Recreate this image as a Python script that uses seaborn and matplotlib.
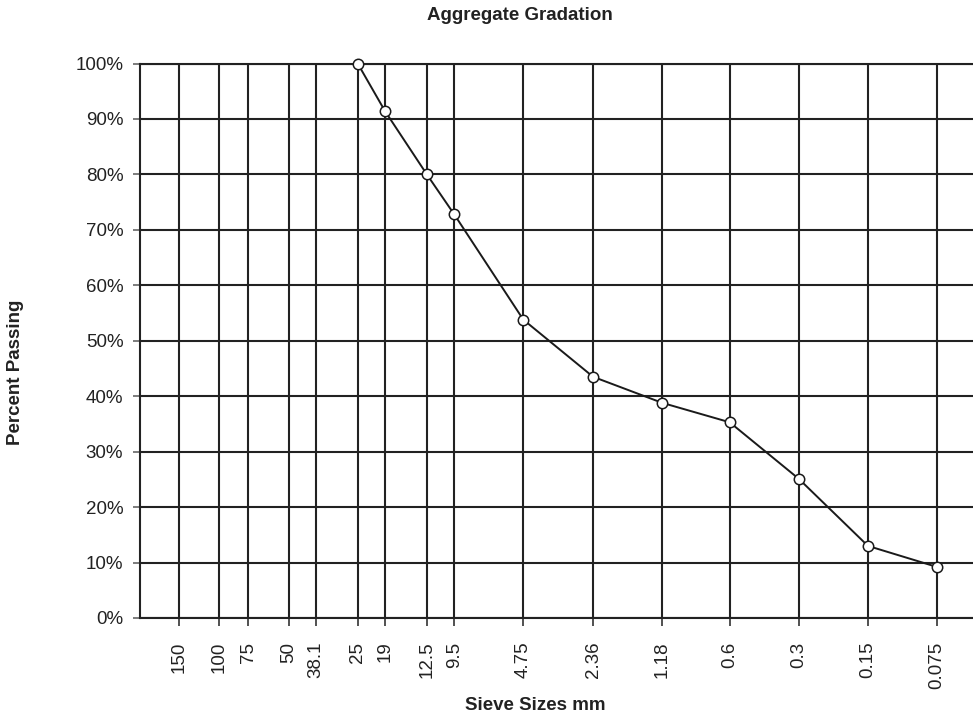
import matplotlib
matplotlib.use("Agg")
import matplotlib.pyplot as plt
import seaborn as sns
import pandas as pd
import numpy as np

# ---- data ----
sieve_labels = ["150", "100", "75", "50", "38.1", "25", "19", "12.5", "9.5",
                "4.75", "2.36", "1.18", "0.6", "0.3", "0.15", "0.075"]
sieve_sizes = [150, 100, 75, 50, 38.1, 25, 19, 12.5, 9.5,
               4.75, 2.36, 1.18, 0.6, 0.3, 0.15, 0.075]
measured_sizes = [25, 19, 12.5, 9.5, 4.75, 2.36, 1.18, 0.6, 0.3, 0.15, 0.075]
percent_passing = [100, 91.4, 80.0, 72.8, 53.8, 43.5, 38.8, 35.3, 25.1, 13.0, 9.2]
y_ticks = [0, 10, 20, 30, 40, 50, 60, 70, 80, 90, 100]
y_tick_labels = [f"{v}%" for v in y_ticks]

df = pd.DataFrame({"size": measured_sizes, "passing": percent_passing})

sns.set_style("white")
plt.rcParams["font.family"] = ["Liberation Sans", "DejaVu Sans"]

W, H = 973, 719
fig = plt.figure(figsize=(W / 100, H / 100), dpi=100)
ax_left, ax_right, ax_top, ax_bottom = 140, 973, 63.5, 618
ax = fig.add_axes([ax_left / W, 1 - ax_bottom / H,
                   (ax_right - ax_left) / W, (ax_bottom - ax_top) / H])

grid_col = "#222222"
grid_lw = 1.5

ax.set_xscale("log")
ax.set_xlim(221.8, 0.0523)
ax.set_ylim(0, 100)

ax.set_xticks(sieve_sizes)
ax.set_xticklabels(sieve_labels, rotation=90, fontsize=13.5, color="#222222")
ax.xaxis.set_minor_locator(matplotlib.ticker.NullLocator())
ax.set_yticks(y_ticks)
ax.set_yticklabels(y_tick_labels, fontsize=13.5, color="#222222")

ax.grid(True, which="major", color=grid_col, linewidth=grid_lw, zorder=1)
ax.set_axisbelow(True)

ax.tick_params(axis="x", which="major", length=6, width=1.2, color="#333333",
               direction="out", pad=11, bottom=True)
ax.tick_params(axis="y", which="major", length=5, width=1.2, color="#666666",
               direction="out", pad=7, left=True)

for side in ["left", "top", "bottom"]:
    ax.spines[side].set_visible(True)
    ax.spines[side].set_color(grid_col)
    ax.spines[side].set_linewidth(grid_lw)
ax.spines["right"].set_visible(False)

sns.lineplot(data=df, x="size", y="passing", ax=ax, color="#1a1a1a",
             linewidth=1.4, marker="o", markersize=7.5,
             markerfacecolor="white", markeredgecolor="#1a1a1a",
             markeredgewidth=1.1, clip_on=False, zorder=5, sort=False)

ax.set_xlabel("")
ax.set_ylabel("")

fig.text(519.5 / W, 1 - 16 / H, "Aggregate Gradation", ha="center", va="center",
         fontsize=13.5, fontweight="bold", color="#222222")
fig.text(535.7 / W, 1 - 706 / H, "Sieve Sizes mm", ha="center", va="center",
         fontsize=13.5, fontweight="bold", color="#222222")
fig.text(16 / W, 1 - 372 / H, "Percent Passing", ha="center", va="center",
         rotation=90, fontsize=13.5, fontweight="bold", color="#222222")

fig.savefig("out.png", dpi=100)
